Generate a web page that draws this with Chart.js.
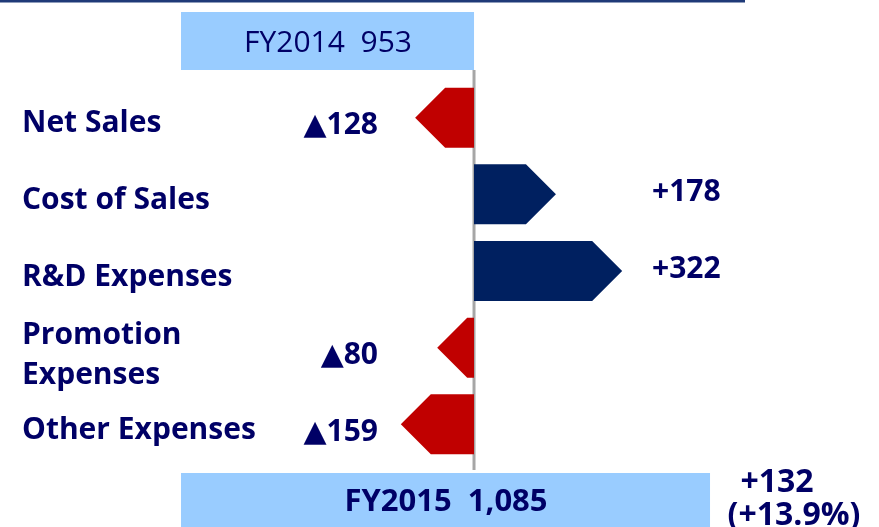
<!DOCTYPE html>
<html>
<head>
<meta charset="utf-8">
<script src="https://cdn.jsdelivr.net/npm/chart.js@4"></script>
<style>
  html, body { margin: 0; padding: 0; background: #fff; }
  #wrap { width: 879px; height: 527px; position: relative; }
</style>
</head>
<body>
<div id="wrap"><canvas id="chart"></canvas></div>
<script>
// DATA
const categories = ['FY2014', 'Net Sales', 'Cost of Sales', 'R&D Expenses', ['Promotion', 'Expenses'], 'Other Expenses', 'FY2015'];
const changes = [null, -128, 178, 322, -80, -159, null];
const changeLabels = ['', '▲128', '+178', '+322', '▲80', '▲159', ''];
const startLabel = 'FY2014  953';
const endLabel = 'FY2015  1,085';
const totalChange = ['+132', '(+13.9%)'];

const NAVY_TEXT = '#000066';
const RED = '#c00000';
const NAVY = '#002060';
const BOX = '#99ccff';
const FONT = '"Open Sans", "DejaVu Sans", sans-serif';

// arrows drawn over the (transparent) bar elements
const arrowPlugin = {
    id: 'arrows',
    beforeDatasetsDraw(chart) {
        const ctx = chart.ctx;
        const x = chart.scales.x, y = chart.scales.y;
        const cx = x.getPixelForValue(0);
        const yTop = y.getPixelForValue(0), yBot = y.getPixelForValue(6);

        ctx.save();
        // top frame line
        ctx.strokeStyle = '#1f3a78';
        ctx.lineWidth = 3;
        ctx.beginPath();
        ctx.moveTo(0, 1);
        ctx.lineTo(745, 1);
        ctx.stroke();

        // start / end boxes
        ctx.fillStyle = BOX;
        ctx.fillRect(cx - 293, yTop - 29, 293, 58);
        ctx.fillRect(cx - 293, yBot - 28, 529, 60);

        // center line
        ctx.strokeStyle = '#a6a6a6';
        ctx.lineWidth = 3;
        ctx.beginPath();
        ctx.moveTo(cx, yTop + 29);
        ctx.lineTo(cx, yBot - 31);
        ctx.stroke();
        ctx.restore();
    },
    afterDatasetsDraw(chart) {
        const ctx = chart.ctx;
        const x = chart.scales.x, y = chart.scales.y;
        const cx = x.getPixelForValue(0);
        const meta = chart.getDatasetMeta(0);

        ctx.save();
        meta.data.forEach((bar, i) => {
            if (changes[i] == null) return;
            const p = bar.getProps(['x', 'y', 'base', 'height'], true);
            const h = p.height / 2;
            const dir = p.x > p.base ? 1 : -1;
            const head = Math.min(h, Math.abs(p.x - p.base));
            ctx.fillStyle = dir > 0 ? NAVY : RED;
            ctx.beginPath();
            ctx.moveTo(p.base, p.y - h);
            ctx.lineTo(p.x - dir * head, p.y - h);
            ctx.lineTo(p.x, p.y);
            ctx.lineTo(p.x - dir * head, p.y + h);
            ctx.lineTo(p.base, p.y + h);
            ctx.closePath();
            ctx.fill();
        });

        // category labels
        ctx.fillStyle = NAVY_TEXT;
        ctx.textBaseline = 'middle';
        ctx.font = 'bold 30px ' + FONT;
        ctx.textAlign = 'left';
        categories.forEach((c, i) => {
            if (i === 0 || i === categories.length - 1) return;
            const yy = y.getPixelForValue(i);
            if (Array.isArray(c)) {
                ctx.fillText(c[0], 22, yy - 12);
                ctx.fillText(c[1], 22, yy + 28);
            } else {
                ctx.fillText(c, 22, yy + 6);
            }
        });

        // value labels
        changeLabels.forEach((t, i) => {
            if (!t) return;
            const yy = y.getPixelForValue(i);
            if (changes[i] < 0) {
                ctx.textAlign = 'right';
                ctx.fillText(t, cx - 96, yy + 8);
            } else {
                ctx.textAlign = 'left';
                ctx.fillText(t, cx + 178, yy - 2);
            }
        });

        // box texts
        const yTop = y.getPixelForValue(0), yBot = y.getPixelForValue(6);
        ctx.textAlign = 'center';
        ctx.font = '30px ' + FONT;
        ctx.fillText(startLabel, cx - 146, yTop + 2);
        ctx.font = 'bold 31px ' + FONT;
        ctx.fillText(endLabel, cx - 28, yBot + 1);
        ctx.font = 'bold 32px ' + FONT;
        ctx.fillText(totalChange[0], cx + 303, yBot - 18);
        ctx.fillText(totalChange[1], cx + 320, yBot + 15);
        ctx.restore();
    }
};

new Chart(document.getElementById('chart'), {
    type: 'bar',
    data: {
        labels: categories,
        datasets: [{
            data: changes.map(v => v == null ? null : [0, v]),
            backgroundColor: 'rgba(0,0,0,0)',
            barThickness: 60
        }]
    },
    options: {
        indexAxis: 'y',
        responsive: true,
        maintainAspectRatio: false,
        animation: false,
        layout: { padding: { top: 41, bottom: 26, left: 0, right: 0 } },
        scales: {
            x: { display: false, min: -1030, max: 880 },
            y: { display: false, offset: false }
        },
        plugins: {
            legend: { display: false },
            tooltip: { enabled: false }
        }
    },
    plugins: [arrowPlugin]
});
</script>
</body>
</html>
